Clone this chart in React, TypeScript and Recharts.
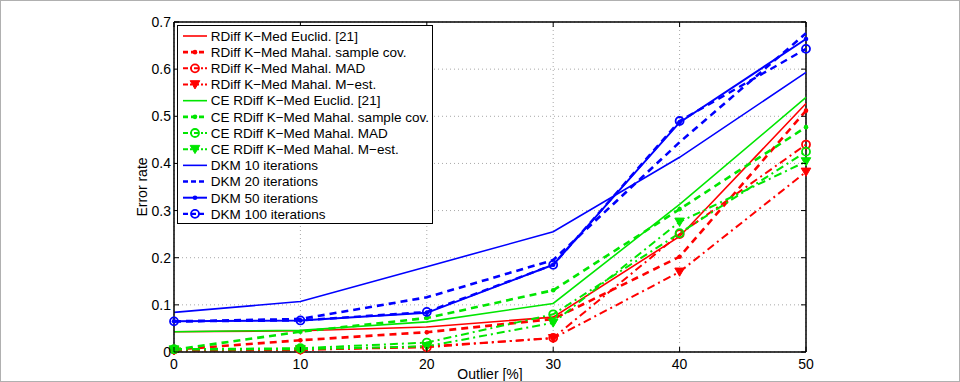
import React from "react";
import {
  LineChart,
  Line,
  XAxis,
  YAxis,
  CartesianGrid,
  ReferenceLine,
  Label,
} from "recharts";

// ---------- data ----------
const outlierPct = [0, 10, 20, 30, 40, 50];
const xTicks = [0, 10, 20, 30, 40, 50];
const yTicks = [0, 0.1, 0.2, 0.3, 0.4, 0.5, 0.6, 0.7];

const rdEuclid = [0.043, 0.045, 0.053, 0.074, 0.245, 0.527];
const rdSample = [0.005, 0.025, 0.042, 0.07, 0.202, 0.512];
const rdMad = [0.005, 0.005, 0.01, 0.03, 0.25, 0.44];
const rdMest = [0.003, 0.004, 0.012, 0.029, 0.17, 0.382];
const ceEuclid = [0.043, 0.046, 0.064, 0.103, 0.313, 0.54];
const ceSample = [0.005, 0.043, 0.072, 0.131, 0.303, 0.477];
const ceMad = [0.006, 0.008, 0.02, 0.08, 0.252, 0.425];
const ceMest = [0.005, 0.006, 0.012, 0.062, 0.276, 0.404];
const dkm10 = [0.084, 0.107, 0.181, 0.255, 0.413, 0.593];
const dkm20 = [0.065, 0.07, 0.116, 0.195, 0.445, 0.676];
const dkm50 = [0.065, 0.067, 0.083, 0.185, 0.487, 0.664];
const dkm100 = [0.065, 0.067, 0.085, 0.185, 0.49, 0.643];

const seriesNames = [
  "RDiff K\u2212Med Euclid. [21]",
  "RDiff K\u2212Med Mahal. sample cov.",
  "RDiff K\u2212Med Mahal. MAD",
  "RDiff K\u2212Med Mahal. M\u2212est.",
  "CE RDiff K\u2212Med Euclid. [21]",
  "CE RDiff K\u2212Med Mahal. sample cov.",
  "CE RDiff K\u2212Med Mahal. MAD",
  "CE RDiff K\u2212Med Mahal. M\u2212est.",
  "DKM 10 iterations",
  "DKM 20 iterations",
  "DKM 50 iterations",
  "DKM 100 iterations",
];
const seriesValues = [
  rdEuclid, rdSample, rdMad, rdMest,
  ceEuclid, ceSample, ceMad, ceMest,
  dkm10, dkm20, dkm50, dkm100,
];

// ---------- styles ----------
const RED = "#ff0000";
const GREEN = "#00e600";
const BLUE = "#0000ff";
const DASH = "7 5";
const DASHDOT = "8 4 2 4";

type MarkerType = "none" | "dot" | "circle" | "tri";
type Style = { color: string; dash?: string; width: number; marker: MarkerType };

const styles: Style[] = [
  { color: RED, width: 1.6, marker: "none" },
  { color: RED, dash: DASH, width: 2.6, marker: "dot" },
  { color: RED, dash: DASHDOT, width: 2, marker: "circle" },
  { color: RED, dash: DASHDOT, width: 2, marker: "tri" },
  { color: GREEN, width: 1.6, marker: "none" },
  { color: GREEN, dash: DASH, width: 2.6, marker: "dot" },
  { color: GREEN, dash: DASHDOT, width: 2, marker: "circle" },
  { color: GREEN, dash: DASHDOT, width: 2, marker: "tri" },
  { color: BLUE, width: 1.6, marker: "none" },
  { color: BLUE, dash: DASH, width: 2.6, marker: "none" },
  { color: BLUE, width: 2, marker: "dot" },
  { color: BLUE, dash: DASH, width: 2.4, marker: "circle" },
];

const data = outlierPct.map((x, i) => {
  const row: Record<string, number> = { x };
  seriesValues.forEach((vals, s) => {
    row["s" + s] = vals[i];
  });
  return row;
});

// ---------- layout ----------
const W = 960;
const H = 382;
const MARGIN = { top: 22, right: 154, bottom: 0, left: 114 };
const Y_AXIS_W = 60;
const X_AXIS_H = 30;
const PLOT_W = W - MARGIN.left - Y_AXIS_W - MARGIN.right;
const PLOT_H = H - MARGIN.top - X_AXIS_H;
const FONT = "'Liberation Sans', Arial, Helvetica, sans-serif";
const TICK_LEN = 5;

function Marker({ type, cx, cy, color }: { type: MarkerType; cx: number; cy: number; color: string }) {
  if (type === "dot") return <circle cx={cx} cy={cy} r={2.3} fill={color} stroke="none" />;
  if (type === "circle")
    return <circle cx={cx} cy={cy} r={4} fill="none" stroke={color} strokeWidth={1.8} />;
  if (type === "tri")
    return (
      <polygon
        points={`${cx - 4.8},${cy - 3.8} ${cx + 4.8},${cy - 3.8} ${cx},${cy + 4.4}`}
        fill={color}
        stroke={color}
        strokeWidth={1}
      />
    );
  return null;
}

const makeDot = (st: Style) => (props: any) => {
  const { cx, cy, index } = props;
  if (cx == null || cy == null) return <g key={"d" + index} />;
  return (
    <g key={"d" + index}>
      <Marker type={st.marker} cx={cx} cy={cy} color={st.color} />
    </g>
  );
};

const XTick = (props: any) => {
  const { x, y, payload } = props;
  return (
    <g>
      <line x1={x} x2={x} y1={y} y2={y - TICK_LEN} stroke="#000" strokeWidth={1} />
      <line x1={x} x2={x} y1={y - PLOT_H} y2={y - PLOT_H + TICK_LEN} stroke="#000" strokeWidth={1} />
      <text x={x} y={y + 17} textAnchor="middle" fontFamily={FONT} fontSize={14} fill="#000">
        {payload.value}
      </text>
    </g>
  );
};

const YTick = (props: any) => {
  const { x, y, payload } = props;
  const v = Number(payload.value);
  const label = v === 0 ? "0" : v.toFixed(1);
  return (
    <g>
      <line x1={x} x2={x + TICK_LEN} y1={y} y2={y} stroke="#000" strokeWidth={1} />
      <line x1={x + PLOT_W - TICK_LEN} x2={x + PLOT_W} y1={y} y2={y} stroke="#000" strokeWidth={1} />
      <text x={x - 3} y={y + 5} textAnchor="end" fontFamily={FONT} fontSize={14} fill="#000">
        {label}
      </text>
    </g>
  );
};

function LegendBox() {
  const rowH = 16.17;
  const w = 256;
  const h = 199;
  return (
    <svg
      width={w}
      height={h}
      style={{ position: "absolute", left: 177, top: 25, overflow: "visible" }}
    >
      <rect x={0.5} y={0.5} width={w - 1} height={h - 1} fill="#fff" stroke="#000" strokeWidth={1} />
      {seriesNames.map((name, i) => {
        const st = styles[i];
        const cy = 11 + i * rowH;
        return (
          <g key={name}>
            <line
              x1={6}
              x2={30}
              y1={cy}
              y2={cy}
              stroke={st.color}
              strokeWidth={st.width}
              strokeDasharray={st.dash ? (st.dash === DASH ? "5 3" : "5 2 2 2") : undefined}
            />
            <Marker type={st.marker} cx={18} cy={cy} color={st.color} />
            <text x={33.7} y={cy + 4.8} fontFamily={FONT} fontSize={13.5} fill="#000">
              {name}
            </text>
          </g>
        );
      })}
    </svg>
  );
}

export default function App() {
  return (
    <div
      style={{
        position: "absolute",
        left: 0,
        top: 0,
        width: W,
        height: H,
        background: "#fff",
        fontFamily: FONT,
      }}
    >
      <LineChart width={W} height={H} data={data} margin={MARGIN}>
        <CartesianGrid stroke="#a8a8a8" strokeDasharray="1 3" strokeWidth={1} />
        <XAxis
          dataKey="x"
          type="number"
          domain={[0, 50]}
          ticks={xTicks}
          height={X_AXIS_H}
          tickSize={0}
          tickMargin={0}
          tick={<XTick />}
          axisLine={{ stroke: "#000", strokeWidth: 1.5 }}
          interval={0}
        >
          <Label
            content={(p: any) => {
              const vb = p.viewBox;
              return (
                <text
                  x={vb.x + vb.width / 2}
                  y={vb.y + vb.height - 3}
                  textAnchor="middle"
                  fontFamily={FONT}
                  fontSize={14}
                  fill="#000"
                >
                  Outlier [%]
                </text>
              );
            }}
          />
        </XAxis>
        <YAxis
          type="number"
          domain={[0, 0.7]}
          ticks={yTicks}
          width={Y_AXIS_W}
          tickSize={0}
          tickMargin={0}
          tick={<YTick />}
          axisLine={{ stroke: "#000", strokeWidth: 1.5 }}
          interval={0}
        >
          <Label
            content={(p: any) => {
              const vb = p.viewBox;
              const cx = vb.x + 28;
              const cy = vb.y + vb.height / 2;
              return (
                <text
                  x={cx}
                  y={cy}
                  transform={`rotate(-90 ${cx} ${cy})`}
                  textAnchor="middle"
                  dominantBaseline="central"
                  fontFamily={FONT}
                  fontSize={14}
                  fill="#000"
                >
                  Error rate
                </text>
              );
            }}
          />
        </YAxis>
        <ReferenceLine y={0.7} stroke="#000" strokeWidth={1.5} />
        <ReferenceLine x={50} stroke="#000" strokeWidth={1.5} />
        {styles.map((st, i) => (
          <Line
            key={"s" + i}
            type="linear"
            dataKey={"s" + i}
            name={seriesNames[i]}
            stroke={st.color}
            strokeWidth={st.width}
            strokeDasharray={st.dash}
            dot={st.marker === "none" ? false : makeDot(st)}
            activeDot={false}
            isAnimationActive={false}
          />
        ))}
      </LineChart>
      <LegendBox />
      <div
        style={{
          position: "absolute",
          left: 0,
          top: 0,
          width: W - 2,
          height: H - 2,
          border: "1px solid #b0b0b0",
          pointerEvents: "none",
        }}
      />
    </div>
  );
}
